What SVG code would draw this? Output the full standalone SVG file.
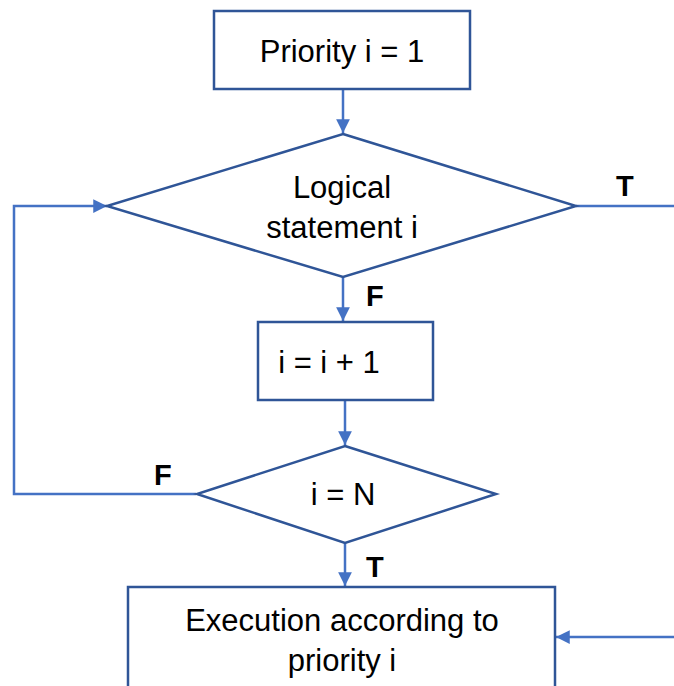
<svg xmlns="http://www.w3.org/2000/svg" width="674" height="686" viewBox="0 0 674 686">
<defs>
<style>
.box{fill:#fff;stroke:#2F5597;stroke-width:2.5}
.con{fill:none;stroke:#4472C4;stroke-width:2.5}
.t{font-family:"Liberation Sans",Arial,sans-serif;font-size:31px;fill:#000;text-anchor:middle}
.lbl{font-family:"Liberation Sans",Arial,sans-serif;font-size:29px;font-weight:bold;fill:#000}
</style>
<marker id="ah" viewBox="0 0 10 10" refX="10" refY="5" markerWidth="6" markerHeight="5.5" orient="auto" markerUnits="strokeWidth">
<path d="M0,0 L10,5 L0,10 Z" fill="#4472C4"/>
</marker>
</defs>
<rect width="674" height="686" fill="#fff"/>
<g id="connectors">
<line class="con" x1="343" y1="89" x2="343" y2="133" marker-end="url(#ah)"/>
<polyline class="con" points="196,494 14,494 14,206 107,206" marker-end="url(#ah)"/>
<line class="con" x1="576" y1="206" x2="674" y2="206"/>
<line class="con" x1="343" y1="277" x2="343" y2="321" marker-end="url(#ah)"/>
<line class="con" x1="345" y1="400" x2="345" y2="445" marker-end="url(#ah)"/>
<line class="con" x1="345" y1="543" x2="345" y2="586" marker-end="url(#ah)"/>
<line class="con" x1="674" y1="637" x2="556" y2="637" marker-end="url(#ah)"/>
<text class="lbl" x="616" y="196">T</text>
<text class="lbl" x="366" y="306">F</text>
<text class="lbl" x="154" y="485">F</text>
<text class="lbl" x="366" y="577">T</text>
</g>
<g id="start">
<rect class="box" x="214" y="11" width="256" height="78"/>
<text class="t" x="342" y="62">Priority i = 1</text>
</g>
<g id="cond1">
<polygon class="box" points="343,134 576,206 343,277 107,206"/>
<text class="t" x="342" y="198">Logical</text>
<text class="t" x="342" y="238">statement i</text>
</g>
<g id="increment">
<rect class="box" x="258" y="322" width="175" height="78"/>
<text class="t" x="329" y="373">i = i + 1</text>
</g>
<g id="cond2">
<polygon class="box" points="345,446 496,494 345,543 197,494"/>
<text class="t" x="343" y="505">i = N</text>
</g>
<g id="execute">
<rect class="box" x="128" y="587" width="427" height="110"/>
<text class="t" x="342" y="631">Execution according to</text>
<text class="t" x="342" y="671">priority i</text>
</g>
</svg>
